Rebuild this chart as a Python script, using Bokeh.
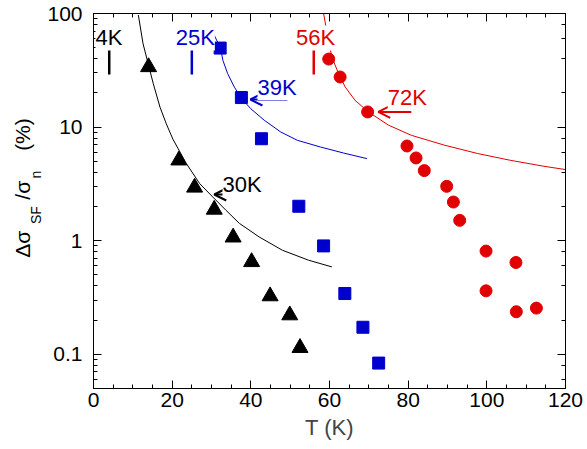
import numpy as np
from bokeh.plotting import figure
from bokeh.layouts import row
from bokeh.core.properties import value
from bokeh.models import (Range1d, LinearAxis, LogAxis, SingleIntervalTicker, LogTicker,
                          CustomJSTickFormatter, Label, Arrow, OpenHead)
from bokeh.embed import file_html
from bokeh.resources import INLINE

# ---- data ----
tri_T = [14.0, 21.7, 25.7, 30.7, 35.5, 40.2, 44.9, 49.9, 52.5]
tri_v = [33.8, 5.1, 2.94, 1.88, 1.07, 0.65, 0.325, 0.221, 0.114]

sq_T = [32.2, 37.6, 42.7, 52.2, 58.5, 63.9, 68.5, 72.5]
sq_v = [49.6, 18.2, 7.9, 2.01, 0.90, 0.343, 0.173, 0.0837]

ci_T = [59.8, 62.7, 69.7, 79.7, 82.0, 84.1, 89.8, 91.5, 93.1, 99.8, 107.4, 99.8, 107.5, 112.6]
ci_v = [39.7, 27.6, 13.6, 6.82, 5.35, 4.14, 3.01, 2.19, 1.51, 0.81, 0.643, 0.362, 0.237, 0.255]

bk_T = [11.4, 12.6, 15.2, 16.9, 18.5, 20.2, 23.6, 27.0, 30.3, 33.7, 37.1, 42.1, 48.0, 54.7, 60.6]
bk_v = [97.0, 54.2, 24.1, 15.0, 10.7, 7.81, 4.78, 3.18, 2.43, 1.85, 1.42, 1.08, 0.825, 0.673, 0.588]

bl_T = [30.0, 32.3, 32.9, 34.1, 35.8, 37.7, 40.0, 43.4, 47.6, 51.8, 57.7, 63.5, 69.5]
bl_v = [72.0, 49.6, 38.6, 29.6, 22.5, 17.8, 14.5, 11.5, 9.06, 7.66, 6.68, 5.92, 5.28]

rd_T = [58.5, 59.8, 60.6, 62.3, 64.0, 66.5, 69.9, 75.0, 80.8, 89.3, 97.7, 106.0, 114.5, 120.0]
rd_v = [100.0, 56.0, 41.4, 29.6, 22.5, 17.2, 13.6, 10.4, 8.47, 6.92, 5.85, 5.1, 4.52, 4.23]

mk_T = [4, 25, 56]
mk_lo = [29, 29, 29]
mk_hi = [56, 56, 56]

BLACK = "#000000"
BLUE = "#0000cc"
RED = "#e00000"
mk_col = [BLACK, BLUE, RED]

lab_text = ["4K", "25K", "56K", "30K", "39K", "72K"]
lab_T = [0.5, 20.9, 51.5, 32.8, 41.7, 74.8]
lab_v = [61.0, 61.0, 61.0, 3.14, 22.3, 18.2]
lab_col = [BLACK, BLUE, RED, BLACK, BLUE, RED]

arr_T0 = [39.2, 49.3, 80.8]
arr_T1 = [30.7, 39.9, 72.4]
arr_v = [2.55, 17.5, 13.6]
arr_col = [BLACK, BLUE, RED]

# y-axis title pieces (main text and subscripts), centred positions
ymain_text = ["\u0394\u03c3", "/\u03c3", "(%)"]
ymain_v = [0.932, 2.78, 8.6]
ysub_text = ["SF", "n"]
ysub_v = [1.68, 3.81]

x_ticks_interval = 20
FONT = "Liberation Sans"
Y0, Y1 = 0.05, 100
H = 449
TOP, BOTTOM = 13, 61
LW = 44  # width of the y-title strip

# ---------- main plot ----------
p = figure(width=587 - LW, height=H, output_backend="svg", toolbar_location=None,
           x_range=Range1d(0, 120), y_range=Range1d(Y0, Y1), y_axis_type="log",
           min_border_left=90 - LW, min_border_right=22, min_border_top=TOP,
           min_border_bottom=BOTTOM)
p.xgrid.visible = False
p.ygrid.visible = False
p.outline_line_color = "black"
p.outline_line_width = 1
p.background_fill_color = "white"
p.border_fill_color = "white"

xt = SingleIntervalTicker(interval=x_ticks_interval, num_minor_ticks=4)
p.xaxis.ticker = xt
p.yaxis.formatter = CustomJSTickFormatter(code="return String(Number(tick.toPrecision(3)))")

for ax in (p.xaxis[0], p.yaxis[0]):
    ax.major_tick_in = 8
    ax.major_tick_out = 0
    ax.minor_tick_in = 4
    ax.minor_tick_out = 0
    ax.axis_line_color = "black"
    ax.major_tick_line_color = "black"
    ax.minor_tick_line_color = "black"
    ax.major_label_text_font = FONT
    ax.major_label_text_font_size = "21px"
    ax.major_label_text_color = "black"

p.xaxis.major_label_standoff = 4
p.yaxis.major_label_standoff = 11
p.xaxis.axis_label = "T (K)"
p.xaxis.axis_label_text_font = FONT
p.xaxis.axis_label_text_font_size = "22px"
p.xaxis.axis_label_text_font_style = "normal"
p.xaxis.axis_label_standoff = 5

top = LinearAxis(ticker=xt, major_label_text_font_size="1px", major_label_text_color=None,
                 major_label_standoff=0,
                 major_tick_in=8, major_tick_out=0, minor_tick_in=4, minor_tick_out=0)
p.add_layout(top, "above")
right = LogAxis(ticker=LogTicker(), major_label_text_font_size="1px", major_label_text_color=None,
                major_label_standoff=0,
                major_tick_in=8, major_tick_out=0, minor_tick_in=4, minor_tick_out=0)
p.add_layout(right, "right")

# curves
p.line(bk_T, bk_v, line_color=BLACK, line_width=1)
p.line(bl_T, bl_v, line_color=BLUE, line_width=1)
p.line(rd_T, rd_v, line_color=RED, line_width=1)

# markers
p.scatter(tri_T, tri_v, marker="triangle", size=16, color=BLACK)
p.scatter(sq_T, sq_v, marker="square", size=12, color=BLUE)
p.scatter(ci_T, ci_v, marker="circle", size=12, color=RED)

# vertical onset markers
p.segment(x0=mk_T, y0=mk_lo, x1=mk_T, y1=mk_hi, line_color=mk_col, line_width=2.5)

# arrows
for a0, a1, av, ac in zip(arr_T0, arr_T1, arr_v, arr_col):
    p.add_layout(Arrow(end=OpenHead(size=12, line_width=2, line_color=ac),
                       x_start=a0, y_start=av, x_end=a1, y_end=av,
                       line_width=2, line_color=ac))

# temperature labels
for t, lx, lv, lc in zip(lab_text, lab_T, lab_v, lab_col):
    p.add_layout(Label(x=lx, y=lv, text=t, text_color=lc, text_font=FONT,
                       text_font_size="22px", text_align="left", text_baseline="alphabetic",
                       background_fill_color="white"))

# ---------- y-title strip ----------
q = figure(width=LW, height=H, output_backend="svg", toolbar_location=None,
           x_range=Range1d(0, LW), y_range=Range1d(Y0, Y1), y_axis_type="log",
           x_axis_location=None, y_axis_location=None,
           min_border_left=0, min_border_right=0, min_border_top=TOP,
           min_border_bottom=BOTTOM)
q.xgrid.visible = False
q.ygrid.visible = False
q.outline_line_color = None
q.background_fill_color = "white"
q.border_fill_color = "white"
q.text(x=[21.5] * len(ymain_text), y=ymain_v, text=ymain_text, angle=np.pi / 2,
       text_font=value(FONT), text_font_size="21px", text_color="black",
       text_align="center", text_baseline="middle")
q.text(x=[35.0] * len(ysub_text), y=ysub_v, text=ysub_text, angle=np.pi / 2,
       text_font=value(FONT), text_font_size="14px", text_color="black",
       text_align="center", text_baseline="middle")

layout = row(q, p, spacing=0)
open("out.html", "w").write(file_html(layout, INLINE))
